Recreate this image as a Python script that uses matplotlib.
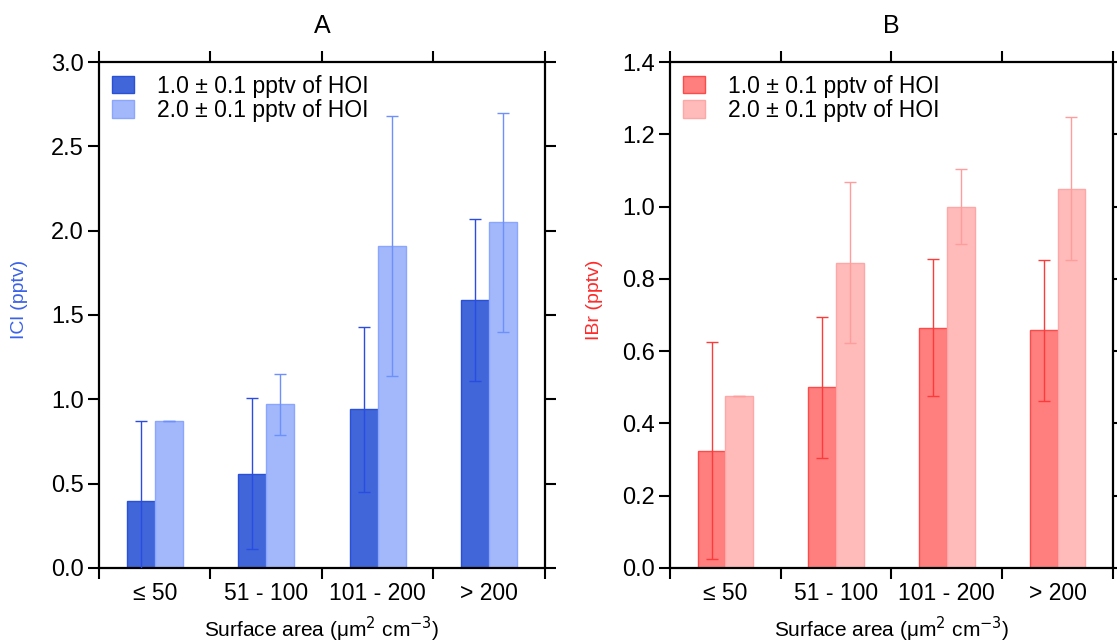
import numpy as np
import matplotlib
matplotlib.use('Agg')
import matplotlib.pyplot as plt
from matplotlib.patches import Patch

plt.rcParams['font.family'] = ['Liberation Sans', 'DejaVu Sans']

# surface area bins
categories = ['\u2264 50', '51 - 100', '101 - 200', '> 200']
legend_labels = ['1.0 \u00b1 0.1 pptv of HOI', '2.0 \u00b1 0.1 pptv of HOI']

# ICl mixing ratios (pptv) and errors
icl_low = [0.40, 0.56, 0.94, 1.59]
icl_low_err = [0.47, 0.45, 0.49, 0.48]
icl_high = [0.87, 0.97, 1.91, 2.05]
icl_high_err = [0.0, 0.18, 0.77, 0.65]

# IBr mixing ratios (pptv) and errors
ibr_low = [0.325, 0.50, 0.665, 0.658]
ibr_low_err = [0.30, 0.195, 0.19, 0.195]
ibr_high = [0.477, 0.845, 1.0, 1.05]
ibr_high_err = [0.0, 0.222, 0.103, 0.198]


def draw_panel(ax, low, low_err, high, high_err, colors, ylim, yticks, ylabel, ylabel_color, title):
    x = np.arange(len(categories)) + 0.5
    w = 0.25
    fill_lo, edge_lo, err_lo, fill_hi, edge_hi, err_hi = colors

    ax.bar(x - w/2, low, w, color=fill_lo, edgecolor=edge_lo, linewidth=1.0, zorder=2)
    ax.bar(x + w/2, high, w, color=fill_hi, edgecolor=edge_hi, linewidth=1.0, zorder=2)
    ax.errorbar(x - w/2, low, yerr=low_err, fmt='none', ecolor=err_lo, elinewidth=1.0,
                capsize=4, capthick=1.0, zorder=3)
    ax.errorbar(x + w/2, high, yerr=high_err, fmt='none', ecolor=err_hi, elinewidth=1.0,
                capsize=4, capthick=1.0, zorder=3)

    ax.set_xlim(0, len(categories))
    ax.set_ylim(*ylim)
    ax.set_yticks(yticks)
    ax.set_yticklabels(['{:.1f}'.format(t) for t in yticks])
    ax.set_xticks(np.arange(len(categories) + 1))
    ax.set_xticklabels([])
    ax.set_xticks(x, minor=True)
    ax.set_xticklabels(categories, minor=True)

    for side in ['left', 'right', 'top', 'bottom']:
        ax.spines[side].set_linewidth(1.6)
    ax.tick_params(which='major', direction='out', length=8, width=1.5,
                   top=True, right=True, labelsize=17, pad=3)
    ax.tick_params(which='minor', length=0, labelsize=16.5, pad=10)

    ax.set_ylabel(ylabel, color=ylabel_color, fontsize=14)
    ax.set_xlabel('Surface area (\u03bcm$^2$ cm$^{-3}$)', fontsize=15, labelpad=7)
    ax.set_title(title, fontsize=18, pad=21)

    handles = [Patch(facecolor=fill_lo, edgecolor=edge_lo), Patch(facecolor=fill_hi, edgecolor=edge_hi)]
    ax.legend(handles, legend_labels, loc='upper left', frameon=False, fontsize=16.5,
              handlelength=1.0, handleheight=0.8, handletextpad=1.0, labelspacing=0.05,
              borderaxespad=0.15, bbox_to_anchor=(0.0, 1.0))


fig = plt.figure(figsize=(11.17, 6.42), dpi=100)
ax_a = fig.add_axes([0.0886, 0.1153, 0.3993, 0.7881])
ax_b = fig.add_axes([0.5998, 0.1153, 0.3966, 0.7881])

blue = ('#4066DA', '#2A50D8', '#2A4CE0', '#A2B8FA', '#8AA6FF', '#6E90FF')
red = ('#FF7E7E', '#FF4A4A', '#FF3A3A', '#FFBABA', '#FFA6A6', '#FF9C9C')

draw_panel(ax_a, icl_low, icl_low_err, icl_high, icl_high_err, blue,
           (0, 3.0), np.arange(0, 3.01, 0.5), 'ICl (pptv)', '#3A62E8', 'A')
draw_panel(ax_b, ibr_low, ibr_low_err, ibr_high, ibr_high_err, red,
           (0, 1.4), np.arange(0, 1.41, 0.2), 'IBr (pptv)', '#FF2A2A', 'B')
ax_a.yaxis.set_label_coords(-0.159, 0.53)
ax_b.yaxis.set_label_coords(-0.151, 0.53)

fig.savefig('out.png', dpi=100)
